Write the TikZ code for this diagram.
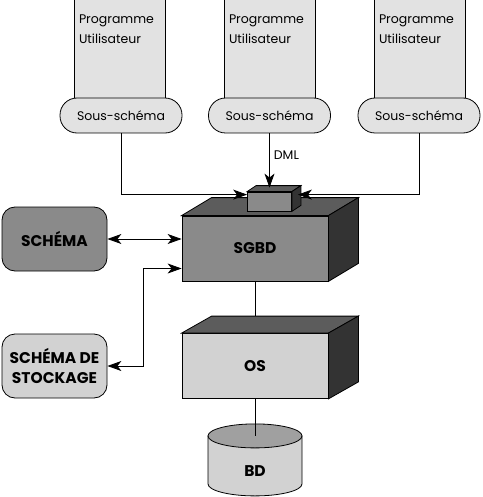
\documentclass[tikz,border=0pt]{standalone}
\usepackage{fontspec}
\setmainfont{Poppins}
\usepackage{tikz}
\usetikzlibrary{calc,arrows.meta}
\definecolor{paleGray}{HTML}{E2E2E2}
\definecolor{lightGray}{HTML}{D2D2D2}
\definecolor{midGray}{HTML}{8A8A8A}
\definecolor{topGray}{HTML}{5C5C5C}
\definecolor{sideGray}{HTML}{333333}
\definecolor{diskGray}{HTML}{A0A0A0}
\tikzset{
	every path/.style={line width=0.8pt},
	progbox/.style={draw, fill=paleGray, minimum width=91pt, minimum height=110pt, inner sep=0pt},
	progtext/.style={anchor=north west, align=left, inner sep=0pt, font=\fontsize{12.5}{20}\selectfont},
	pill/.style={draw, fill=paleGray, rounded corners=17pt, minimum width=122pt, minimum height=35pt, font=\fontsize{12.5}{15}\selectfont},
	schemabox/.style={draw, rounded corners=13pt, minimum width=105pt, minimum height=64pt, align=center, font=\bfseries\fontsize{15.5}{20}\selectfont},
	cubefront/.style={draw, minimum width=146pt, minimum height=65pt, font=\bfseries\fontsize{15.5}{18}\selectfont},
	flowboth/.style={{Stealth[length=14pt,width=10pt,inset=4pt]}-{Stealth[length=14pt,width=10pt,inset=4pt]}}
}
% top and right faces of a box drawn in perspective
\newcommand{\cubefaces}[4]{%
	\filldraw[fill=#3] (#1.north west) -- ($(#1.north west)+#2$) -- ($(#1.north east)+#2$) -- (#1.north east) -- cycle;
	\filldraw[fill=#4] (#1.north east) -- ($(#1.north east)+#2$) -- ($(#1.south east)+#2$) -- (#1.south east) -- cycle;}
\begin{document}
\begin{tikzpicture}[x=1pt,y=-1pt]
	\useasboundingbox (0,0) rectangle (482,497);
	% programmes utilisateur
	\node (prog1) [progbox] at (119.5,50) {};
	\node (prog2) [progbox] at (269.5,50) {};
	\node (prog3) [progbox] at (419.5,50) {};
	\node (prog1txt) [progtext] at ([xshift=5pt,yshift=-20pt]prog1.north west) {Programme\\Utilisateur};
	\node (prog2txt) [progtext] at ([xshift=5pt,yshift=-20pt]prog2.north west) {Programme\\Utilisateur};
	\node (prog3txt) [progtext] at ([xshift=5pt,yshift=-20pt]prog3.north west) {Programme\\Utilisateur};
	\node (ss1) [pill] at (121,115.5) {Sous-schéma};
	\node (ss2) [pill] at (269.5,115.5) {Sous-schéma};
	\node (ss3) [pill] at (419,115.5) {Sous-schéma};
	% SGBD et OS
	\node (sgbd) [cubefront, fill=midGray] at (255,248.5) {SGBD};
	\cubefaces{sgbd}{(30,-18)}{topGray}{sideGray}
	\node (os) [cubefront, fill=lightGray] at (255,366) {OS};
	\cubefaces{os}{(30,-17)}{topGray}{sideGray}
	\node (dml) [draw, fill=midGray, minimum width=44pt, minimum height=19pt, inner sep=0pt] at (269.5,201.5) {};
	\cubefaces{dml}{(9,-6)}{topGray}{sideGray}
	% schemas
	\node (schema) [schemabox, fill=midGray] at (54.5,239) {SCHÉMA};
	\node (stock) [schemabox, fill=lightGray] at (54.5,366) {SCHÉMA DE\\STOCKAGE};
	% BD
	\coordinate (bdc) at ([yshift=-37pt]os.south);
	\filldraw[fill=lightGray] ($(bdc)+(-47,0)$) -- ($(bdc)+(-47,48)$) arc[start angle=180, end angle=360, x radius=47pt, y radius=12pt] -- ($(bdc)+(47,0)$) -- cycle;
	\filldraw[fill=diskGray] (bdc) ellipse[x radius=47pt, y radius=12pt];
	\node (bd) [font=\bfseries\fontsize{15.5}{18}\selectfont] at ([yshift=-35pt]bdc) {BD};
	% connexions
	\coordinate (inl) at ([yshift=-3pt]dml.north west);
	\coordinate (inr) at ([xshift=6pt,yshift=-3pt]dml.north east);
	\coordinate (intop) at ([yshift=4pt]dml.north);
	\draw[-{Stealth[length=14pt,width=10pt,inset=4pt]}] (ss1.south) |- (inl);
	\draw[-{Stealth[length=14pt,width=10pt,inset=4pt]}] (ss3.south) |- (inr);
	\draw[-{Stealth[length=14pt,width=10pt,inset=4pt]}] (ss2.south) -- (intop);
	\node (dmltxt) [anchor=west, inner sep=0pt, font=\fontsize{12.5}{15}\selectfont] at ([xshift=4pt,yshift=-22pt]ss2.south) {DML};
	\draw[flowboth] (schema.east) -- (sgbd.west |- schema.east);
	\draw[flowboth] (stock.east) -- ++(36,0) |- ([yshift=-20pt]sgbd.west);
	\draw (sgbd.south) -- ([yshift=17pt]os.north);
	\draw (os.south) -- (bdc);
\end{tikzpicture}
\end{document}
